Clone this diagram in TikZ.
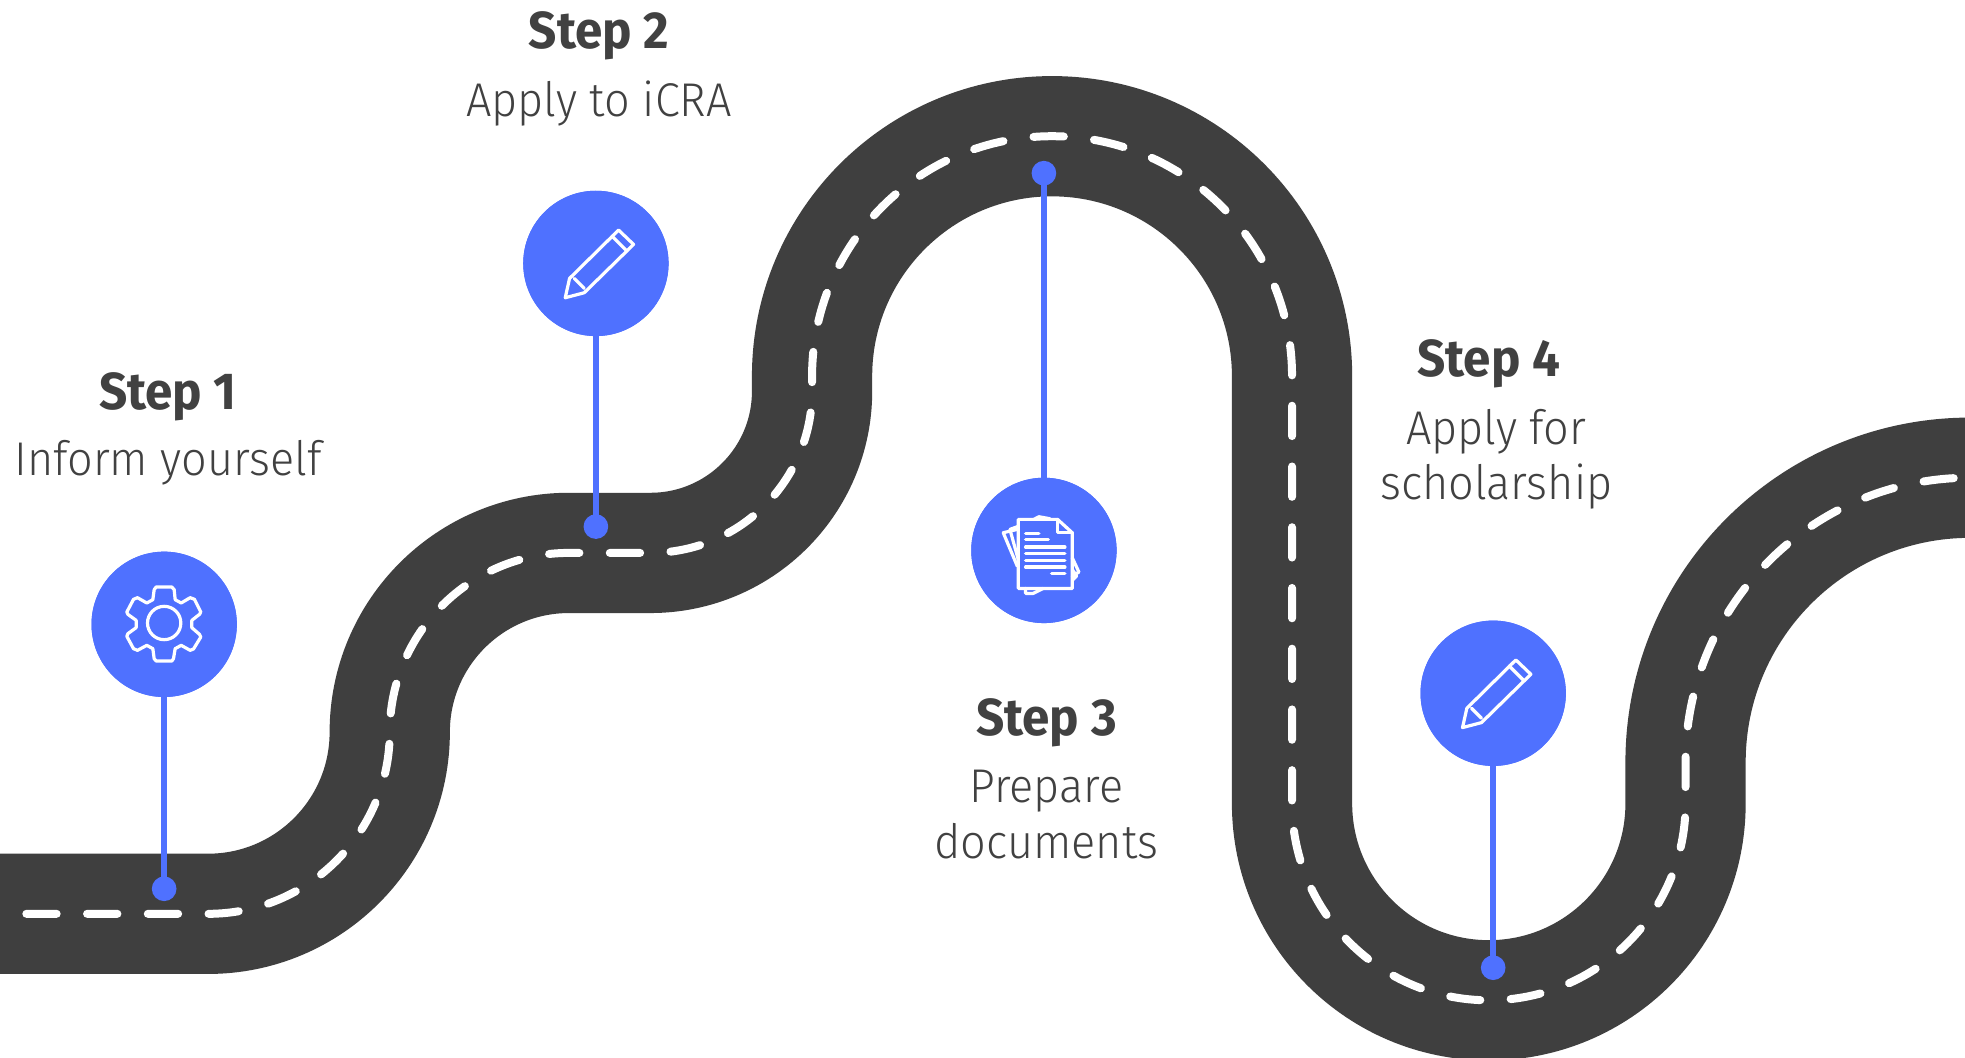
\documentclass[tikz,border=0pt]{standalone}
\usepackage{fontspec}
\setmainfont{Fira Sans Light}[FakeStretch=0.95]
\newfontfamily\titlefont{Fira Sans Bold}[FakeStretch=0.95]
\definecolor{roadc}{HTML}{3F3F3F}
\definecolor{bluec}{HTML}{4F71FF}
\definecolor{textc}{HTML}{414141}
\tikzset{
  roadline/.style={line width=90.2pt,draw=roadc},
  centerdash/.style={line width=6pt,draw=white,line cap=round,dash pattern=on 22.75pt off 22.8pt,dash phase=7pt},
  badge/.style={circle,fill=bluec,draw=none,minimum size=109pt,inner sep=0pt},
  pin/.style={circle,fill=bluec,draw=none,minimum size=18.5pt,inner sep=0pt},
  stem/.style={draw=bluec,line width=4.2pt},
  icon/.style={draw=white,line width=2.4pt,line join=round,line cap=round},
  stepttl/.style={text=textc,font=\titlefont\fontsize{39}{44}\selectfont,inner sep=0pt,anchor=base},
  stepsub/.style={text=textc,font=\fontsize{35.5}{41.4}\selectfont,align=center,inner sep=0pt,anchor=base}
}
\newcommand{\pencilicon}[1]{
  \begin{scope}[shift={(#1)},x=0.25pt,y=-0.25pt,icon]
    \draw (68,-100)--(113,-57)--(-35,88)--(-92,103)--(-79,45)--cycle;
    \draw (48,-82)--(93,-37);
    \draw (-65,45)--(-35,75);
  \end{scope}}
\begin{document}
\begin{tikzpicture}[x=0.9399pt,y=0.9399pt]
\useasboundingbox (0,0) rectangle (1568,844.2);
\clip (0,0) rectangle (1568,844.2);
\fill[white] (0,0) rectangle (1568,844.2);
\def\roadpath{(-20,115) -- (166,115) arc[start angle=-90,end angle=0,radius=145] arc[start angle=180,end angle=90,radius=143] -- (519,403) arc[start angle=-90,end angle=0,radius=129] -- (648,544) arc[start angle=180,end angle=0,radius=191.5] -- (1031,203) arc[start angle=180,end angle=360,radius=157] -- (1345,236) arc[start angle=180,end angle=90,radius=227] -- (1620,463)}
\draw[roadline] \roadpath;
\draw[centerdash] \roadpath;
% badges and pins
\node[badge] (b1) at (131,346) {};
\node[badge] (b2) at (475.5,634) {};
\node[badge] (b3) at (833,405) {};
\node[badge] (b4) at (1191.5,291) {};
\node[pin] (p1) at (131,135) {};
\node[pin] (p2) at (475.5,424) {};
\node[pin] (p3) at (833,706) {};
\node[pin] (p4) at (1191.5,72) {};
\draw[stem] (b1.center) -- (p1.center);
\draw[stem] (b2.center) -- (p2.center);
\draw[stem] (p3.center) -- (b3.center);
\draw[stem] (b4.center) -- (p4.center);
\node[badge] at (b1) {};\node[badge] at (b2) {};\node[badge] at (b3) {};\node[badge] at (b4) {};
% gear
\begin{scope}[shift={(b1.center)},x=0.25pt,y=-0.25pt,icon]
  \draw (-30,-104)--(-24,-112)--(23,-112)--(30,-104)--(33,-74)--(51,-64)--(78,-80)--(91,-75)--(110,-37)--(106,-30)--(83,-12)--(83,10)--(106,30)--(110,38)--(88,74)--(78,78)--(51,63)--(33,73)--(28,103)--(23,110)--(-24,110)--(-30,103)--(-34,73)--(-52,63)--(-80,78)--(-92,73)--(-112,36)--(-109,28)--(-84,10)--(-84,-12)--(-109,-30)--(-112,-37)--(-92,-75)--(-80,-80)--(-52,-64)--(-34,-74)--cycle;
  \draw (0,-4) circle[radius=50];
\end{scope}
\pencilicon{b2.center}
\pencilicon{b4.center}
% documents
\begin{scope}[shift={(b3.center)},x=0.25pt,y=-0.25pt,icon]
  \draw (-77,-93)--(41,-93)--(85,-53)--(85,114)--(-77,114)--cycle;
  \draw (41,-93)--(41,-53)--(85,-53);
  \draw (-55,-51)--(-15,-51) (-55,-32)--(13,-32) (-55,-10)--(63,-10) (-55,10)--(63,10) (-55,30)--(63,30) (-55,50)--(63,50) (23,69)--(63,69);
  \draw (-80,-63)--(-122,-53)--(-80,47);
  \draw (-80,-71)--(-102,-63)--(-77,27);
  \draw (-30,-93)--(-15,-101)--(18,-95);
  \draw (85,22)--(105,65)--(85,77);
  \draw (85,57)--(98,77)--(85,90);
  \draw (-55,114)--(-55,129)--(-32,129)--(-2,114);
\end{scope}
% labels
\node[stepttl] (t1) at (134,517.6) {Step 1};
\node[stepsub] (s1) at (134,464.4) {Inform yourself};
\node[stepttl] (t2) at (478,805.6) {Step 2};
\node[stepsub] (s2) at (478,751.4) {Apply to iCRA};
\node[stepttl] (t3) at (835,257.6) {Step 3};
\node[stepsub] (s3) at (835,159.4) {Prepare\\documents};
\node[stepttl] (t4) at (1188,543.6) {Step 4};
\node[stepsub] (s4) at (1194,445.4) {Apply for\\scholarship};
\end{tikzpicture}
\end{document}
